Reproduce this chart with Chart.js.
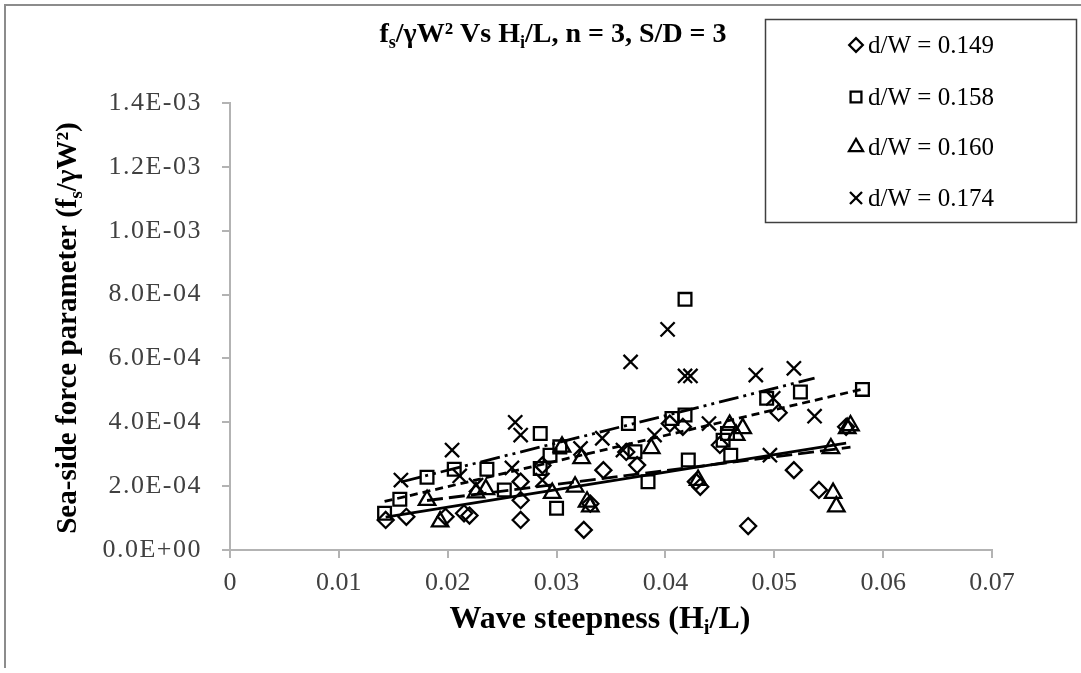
<!DOCTYPE html>
<html lang="en">
<head>
<meta charset="UTF-8">
<title>fs/γW² Vs Hi/L, n = 3, S/D = 3</title>
<script src="https://cdn.jsdelivr.net/npm/chart.js"></script>
<style>
  html, body { margin: 0; padding: 0; background: #fff; }
  #wrap { width: 1081px; height: 673px; }
</style>
</head>
<body>
<div id="wrap"><canvas id="chart" width="1081" height="673"></canvas></div>
<script>
// values: x = Hi/L, y = fs/γW²
const dia_x = [0.0143, 0.0162, 0.0198, 0.0215, 0.0220, 0.0267, 0.0267, 0.0267, 0.0287, 0.0325, 0.0331, 0.0343,
               0.0364, 0.0374, 0.0404, 0.0416, 0.0428, 0.0432, 0.0450, 0.0476, 0.0504, 0.0518, 0.0541, 0.0566];
const dia_y = [0.94e-4, 1.04e-4, 1.04e-4, 1.15e-4, 1.08e-4, 0.94e-4, 1.56e-4, 2.14e-4, 2.65e-4, 0.63e-4, 1.45e-4, 2.50e-4,
               3.07e-4, 2.66e-4, 3.96e-4, 3.86e-4, 2.14e-4, 1.98e-4, 3.29e-4, 0.75e-4, 4.30e-4, 2.50e-4, 1.88e-4, 3.86e-4];

const sq_x = [0.0142, 0.0156, 0.0181, 0.0206, 0.0236, 0.0252, 0.0285, 0.0285, 0.0294, 0.0303, 0.0300, 0.0366,
              0.0372, 0.0384, 0.0406, 0.0418, 0.0421, 0.0418, 0.0453, 0.0457, 0.0460, 0.0493, 0.0524, 0.0581];
const sq_y = [1.15e-4, 1.59e-4, 2.28e-4, 2.53e-4, 2.53e-4, 1.88e-4, 3.65e-4, 2.55e-4, 2.97e-4, 3.23e-4, 1.31e-4, 3.96e-4,
              3.08e-4, 2.14e-4, 4.12e-4, 4.23e-4, 2.82e-4, 7.85e-4, 3.44e-4, 3.65e-4, 2.97e-4, 4.75e-4, 4.95e-4, 5.03e-4];

const tri_x = [0.0181, 0.0193, 0.0226, 0.0235, 0.0296, 0.0305, 0.0317, 0.0323, 0.0328, 0.0331,
               0.0387, 0.0430, 0.0459, 0.0465, 0.0471, 0.0552, 0.0554, 0.0557, 0.0567, 0.0570];
const tri_y = [1.56e-4, 0.89e-4, 1.80e-4, 1.90e-4, 1.78e-4, 3.23e-4, 1.98e-4, 2.87e-4, 1.51e-4, 1.36e-4,
               3.18e-4, 2.19e-4, 3.91e-4, 3.60e-4, 3.81e-4, 3.18e-4, 1.78e-4, 1.36e-4, 3.81e-4, 3.90e-4];

const crs_x = [0.0157, 0.0204, 0.0211, 0.0226, 0.0259, 0.0262, 0.0267, 0.0287, 0.0322, 0.0342, 0.0361,
               0.0368, 0.0390, 0.0402, 0.0418, 0.0423, 0.0440, 0.0483, 0.0496, 0.0499, 0.0518, 0.0537];
const crs_y = [2.19e-4, 3.13e-4, 2.32e-4, 2.03e-4, 2.57e-4, 4.00e-4, 3.60e-4, 2.19e-4, 3.18e-4, 3.50e-4, 3.13e-4,
               5.89e-4, 3.60e-4, 6.91e-4, 5.45e-4, 5.45e-4, 3.96e-4, 5.48e-4, 2.97e-4, 4.75e-4, 5.69e-4, 4.19e-4];

// linear trend lines, end points as seen in the figure
const dia_trend_x = [0.0143, 0.0566], dia_trend_y = [1.03e-4, 3.35e-4];
const sq_trend_x  = [0.0142, 0.0581], sq_trend_y  = [1.52e-4, 5.04e-4];
const tri_trend_x = [0.0181, 0.0570], tri_trend_y = [1.55e-4, 3.22e-4];
const crs_trend_x = [0.0157, 0.0537], crs_trend_y = [2.13e-4, 5.38e-4];

const labels = ['d/W = 0.149', 'd/W = 0.158', 'd/W = 0.160', 'd/W = 0.174'];

const FONT = '"Liberation Serif", "Times New Roman", serif';
Chart.defaults.font.family = FONT;

function pts(xs, ys) {
  return xs.map((x, i) => ({ x: x, y: ys[i] }));
}

// marker settings, shared with the hand drawn legend
const markers = [
  { pointStyle: 'rectRot', radius: 8 },
  { pointStyle: 'rect', radius: 9 },
  { pointStyle: 'triangle', radius: 9.5 },
  { pointStyle: 'crossRot', radius: 10 }
];

function scatterSet(i, xs, ys) {
  return {
    label: labels[i],
    data: pts(xs, ys),
    showLine: false,
    pointStyle: markers[i].pointStyle,
    pointRadius: markers[i].radius,
    pointBorderColor: '#000',
    pointBackgroundColor: 'rgba(0,0,0,0)',
    pointBorderWidth: 2.3
  };
}

function trendSet(xs, ys, dash) {
  return {
    type: 'line',
    data: pts(xs, ys),
    showLine: true,
    borderColor: '#000',
    borderWidth: 2.8,
    borderDash: dash,
    pointRadius: 0,
    fill: false
  };
}

function sci(v) {
  if (Math.abs(v) < 1e-12) return '0.0E+00';
  const parts = v.toExponential(1).split('e');
  const e = parseInt(parts[1], 10);
  return parts[0] + 'E' + (e < 0 ? '-' : '+') + String(Math.abs(e)).padStart(2, '0');
}

// text with subscripts: parts = [[text, isSub], ...]
function richText(ctx, parts, x, y, size, bold) {
  const font = s => (bold ? 'bold ' : '') + s + 'px ' + FONT;
  let w = 0;
  parts.forEach(p => { ctx.font = font(p[1] ? size * 0.65 : size); w += ctx.measureText(p[0]).width; });
  let cx = x - w / 2;
  parts.forEach(p => {
    ctx.font = font(p[1] ? size * 0.65 : size);
    ctx.fillText(p[0], cx, p[1] ? y + size * 0.2 : y);
    cx += ctx.measureText(p[0]).width;
  });
}

// the y tick labels of the original are spaced out a little
const spacedY = {
  id: 'spacedY',
  afterLayout(chart) {
    const sc = chart.scales.y;
    if (sc._spaced) return;
    const orig = sc.drawLabels;
    sc.drawLabels = function (area) {
      const ctx = this.ctx;
      ctx.save();
      ctx.letterSpacing = '1.5px';
      orig.call(this, area);
      ctx.restore();
    };
    sc._spaced = true;
  }
};

const decor = {
  id: 'decor',
  afterDraw(chart) {
    const ctx = chart.ctx;
    ctx.save();
    // frame of the original picture
    ctx.strokeStyle = '#8c8c8c';
    ctx.lineWidth = 2;
    ctx.beginPath();
    ctx.moveTo(5, 668);
    ctx.lineTo(5, 5);
    ctx.lineTo(1081, 5);
    ctx.stroke();

    ctx.fillStyle = '#000';
    ctx.textAlign = 'left';
    ctx.textBaseline = 'alphabetic';

    // chart title
    richText(ctx, [['f', false], ['s', true], ['/γW² Vs H', false], ['i', true], ['/L, n = 3, S/D = 3', false]],
             553, 42, 28, true);

    // x axis title
    richText(ctx, [['Wave steepness (H', false], ['i', true], ['/L)', false]], 600, 628, 32, true);

    // y axis title
    ctx.save();
    ctx.translate(67, 328);
    ctx.rotate(-Math.PI / 2);
    richText(ctx, [['Sea-side force parameter (f', false], ['s', true], ['/γW²)', false]], 0, 9, 29, true);
    ctx.restore();

    // legend box
    ctx.strokeStyle = '#404040';
    ctx.lineWidth = 1.5;
    ctx.strokeRect(765.5, 19.5, 311, 203);
    const rows = [45, 97, 147, 198];
    ctx.font = '25px ' + FONT;
    ctx.textBaseline = 'middle';
    rows.forEach((ry, i) => {
      ctx.strokeStyle = '#000';
      ctx.fillStyle = 'rgba(0,0,0,0)';
      ctx.lineWidth = 2.3;
      Chart.helpers.drawPoint(ctx, {
        pointStyle: markers[i].pointStyle,
        radius: markers[i].radius * 0.85,
        rotation: 0,
        borderWidth: 2.3
      }, 856, ry);
      ctx.fillStyle = '#000';
      ctx.fillText(labels[i], 868, ry + 1);
    });
    ctx.restore();
  }
};

const axisGrid = { drawOnChartArea: false, drawTicks: true, tickLength: 8, color: '#b3b3b3', lineWidth: 2 };
const axisBorder = { display: true, color: '#b3b3b3', width: 2 };

new Chart(document.getElementById('chart'), {
  type: 'scatter',
  data: {
    datasets: [
      scatterSet(0, dia_x, dia_y),
      scatterSet(1, sq_x, sq_y),
      scatterSet(2, tri_x, tri_y),
      scatterSet(3, crs_x, crs_y),
      trendSet(dia_trend_x, dia_trend_y, []),
      trendSet(sq_trend_x, sq_trend_y, [8, 5]),
      trendSet(tri_trend_x, tri_trend_y, [16, 6]),
      trendSet(crs_trend_x, crs_trend_y, [20, 5, 3, 5, 3, 5])
    ]
  },
  options: {
    responsive: false,
    animation: false,
    events: [],
    layout: { padding: { top: 103, right: 89, bottom: 0, left: 0 } },
    plugins: {
      legend: { display: false },
      title: { display: false },
      tooltip: { enabled: false }
    },
    scales: {
      x: {
        type: 'linear',
        min: 0,
        max: 0.07,
        afterFit: s => { s.height = 123; },
        grid: axisGrid,
        border: axisBorder,
        ticks: {
          stepSize: 0.01,
          autoSkip: false,
          maxRotation: 0,
          padding: 10,
          color: '#404040',
          font: { size: 26 },
          callback: v => {
            const r = Math.round(v * 100) / 100;
            return r === 0 ? '0' : r.toFixed(2);
          }
        }
      },
      y: {
        type: 'linear',
        min: 0,
        max: 0.0014,
        afterFit: s => { s.width = 230; },
        grid: axisGrid,
        border: axisBorder,
        ticks: {
          stepSize: 0.0002,
          padding: 20,
          color: '#404040',
          font: { size: 26 },
          callback: v => sci(v)
        }
      }
    }
  },
  plugins: [spacedY, decor]
});
</script>
</body>
</html>
